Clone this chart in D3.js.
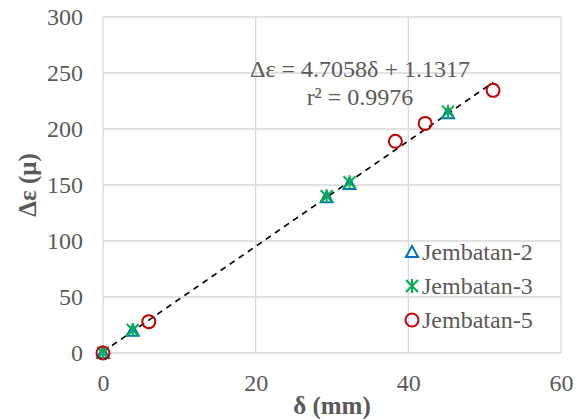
<!DOCTYPE html>
<html>
<head>
<meta charset="utf-8">
<script src="https://cdnjs.cloudflare.com/ajax/libs/d3/7.8.5/d3.min.js"></script>
<style>
  body { margin: 0; background: #fff; }
  text { font-family: "Liberation Serif", "Times New Roman", serif; fill: #595959; }
</style>
</head>
<body>
<div id="graph"></div>
<script>
// data
const series = ["Jembatan-2", "Jembatan-3", "Jembatan-5"];
const j2X = [0, 3.9, 29.3, 32.3, 45.2];
const j2Y = [0, 19.8, 139, 151, 214];
const j3X = [0, 3.9, 29.3, 32.3, 45.2];
const j3Y = [0, 20.5, 140, 152.5, 215.5];
const j5X = [0, 6.0, 38.3, 42.2, 51.1];
const j5Y = [0, 28, 189, 205, 234.5];
const trendCoef = [4.7058, 1.1317];
const xTicks = [0, 20, 40, 60];
const yTicks = [0, 50, 100, 150, 200, 250, 300];

const width = 586, height = 419;
const margin = {top: 17, right: 25, bottom: 66, left: 103};

const svg = d3.select("#graph")
    .append("svg")
        .attr("width", width)
        .attr("height", height);

const x = d3.scaleLinear().domain([0, 60]).range([margin.left, width - margin.right]);
const y = d3.scaleLinear().domain([0, 300]).range([height - margin.bottom, margin.top]);

// gridlines
svg.append("g")
    .selectAll("line")
    .data(yTicks)
    .join("line")
        .attr("x1", x(0)).attr("x2", x(60))
        .attr("y1", d => y(d)).attr("y2", d => y(d))
        .attr("stroke", "#d9d9d9").attr("stroke-width", 1.3);
svg.append("g")
    .selectAll("line")
    .data(xTicks)
    .join("line")
        .attr("x1", d => x(d)).attr("x2", d => x(d))
        .attr("y1", y(0)).attr("y2", y(300))
        .attr("stroke", "#d9d9d9").attr("stroke-width", 1.3);

// axes (labels only, lines are gridlines)
const xAxis = svg.append("g")
    .attr("transform", `translate(0,${y(0)})`)
    .call(d3.axisBottom(x).tickValues(xTicks).tickSize(0).tickPadding(21));
const yAxis = svg.append("g")
    .attr("transform", `translate(${x(0)},0)`)
    .call(d3.axisLeft(y).tickValues(yTicks).tickSize(0).tickPadding(20));
[xAxis, yAxis].forEach(a => {
    a.select(".domain").remove();
    a.selectAll("text").attr("font-size", 24).attr("fill", "#595959")
        .attr("font-family", "Liberation Serif");
});

// axis titles
svg.append("text")
    .attr("x", (x(0) + x(60)) / 2).attr("y", 414)
    .attr("text-anchor", "middle")
    .attr("font-size", 25).attr("font-weight", "bold")
    .text("δ (mm)");
svg.append("text")
    .attr("transform", `translate(36,${(y(0) + y(300)) / 2}) rotate(-90)`)
    .attr("text-anchor", "middle")
    .attr("font-size", 25).attr("font-weight", "bold")
    .text("Δε (μ)");

// trendline
const tx = [0, d3.max(j5X)];
svg.append("line")
    .attr("x1", x(tx[0])).attr("y1", y(trendCoef[0] * tx[0] + trendCoef[1]))
    .attr("x2", x(tx[1])).attr("y2", y(trendCoef[0] * tx[1] + trendCoef[1]))
    .attr("stroke", "#000").attr("stroke-width", 1.6)
    .attr("stroke-dasharray", "6,5");

// markers
function drawTri(g, cx, cy) {
    g.append("path")
        .attr("d", `M${cx},${cy - 6}L${cx + 6},${cy + 5}L${cx - 6},${cy + 5}Z`)
        .attr("fill", "none").attr("stroke", "#0070c0").attr("stroke-width", 2);
}
function drawStar(g, cx, cy) {
    const r = 6;
    g.append("path")
        .attr("d", `M${cx - r},${cy - r}L${cx + r},${cy + r}M${cx + r},${cy - r}L${cx - r},${cy + r}M${cx},${cy - r - 1}L${cx},${cy + r + 1}`)
        .attr("fill", "none").attr("stroke", "#00b050").attr("stroke-width", 2);
}
function drawCirc(g, cx, cy) {
    g.append("circle")
        .attr("cx", cx).attr("cy", cy).attr("r", 6.5)
        .attr("fill", "none").attr("stroke", "#c00000").attr("stroke-width", 2);
}
const drawers = [drawTri, drawStar, drawCirc];
const sets = [[j2X, j2Y], [j3X, j3Y], [j5X, j5Y]];

const marks = svg.append("g");
sets.forEach((s, k) => {
    s[0].forEach((v, i) => drawers[k](marks, x(v), y(s[1][i])));
});

// equation
const eq = svg.append("text")
    .attr("text-anchor", "middle")
    .attr("font-size", 24);
eq.append("tspan").attr("x", 360).attr("y", 77)
    .text(`Δε = ${trendCoef[0]}δ + ${trendCoef[1]}`);
eq.append("tspan").attr("x", 360).attr("y", 105)
    .text("r² = 0.9976");

// legend
const legend = svg.append("g");
series.forEach((name, k) => {
    const ly = 252 + k * 34;
    drawers[k](legend, 412, ly);
    legend.append("text")
        .attr("x", 422).attr("y", ly + 8)
        .attr("font-size", 24)
        .text(name);
});
</script>
</body>
</html>
